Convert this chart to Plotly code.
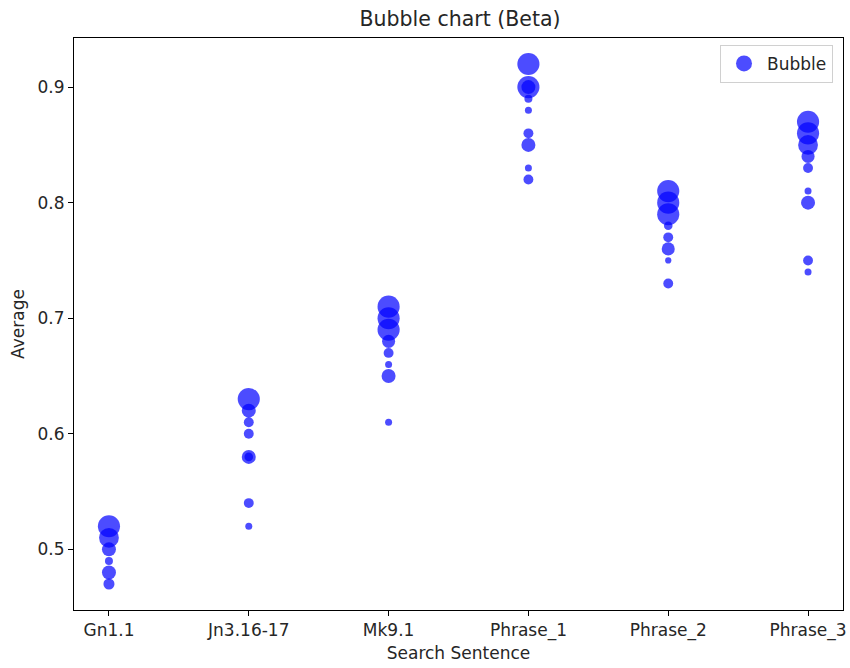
import plotly.graph_objects as go

# Search sentences on the x axis
sentences = ["Gn1.1", "Jn3.16-17", "Mk9.1", "Phrase_1", "Phrase_2", "Phrase_3"]

# One entry per bubble: which sentence, its average score and its weight (bubble area)
point_sentence = (
    ["Gn1.1"] * 6
    + ["Jn3.16-17"] * 8
    + ["Mk9.1"] * 8
    + ["Phrase_1"] * 9
    + ["Phrase_2"] * 8
    + ["Phrase_3"] * 9
)
point_average = [
    0.52, 0.51, 0.50, 0.49, 0.48, 0.47,
    0.63, 0.62, 0.61, 0.60, 0.58, 0.58, 0.54, 0.52,
    0.71, 0.70, 0.69, 0.68, 0.67, 0.66, 0.65, 0.61,
    0.92, 0.90, 0.90, 0.89, 0.88, 0.86, 0.85, 0.83, 0.82,
    0.81, 0.80, 0.79, 0.78, 0.77, 0.76, 0.75, 0.73,
    0.87, 0.86, 0.85, 0.84, 0.83, 0.81, 0.80, 0.75, 0.74,
]
point_weight = [
    10, 8, 4, 1.3, 4, 2.5,
    10, 4, 2, 2, 4, 1.5, 2, 1,
    10, 10, 10, 3.5, 2, 1, 4, 1,
    10, 10, 4, 1.3, 1, 2, 4, 1, 2,
    10, 10, 10, 1.5, 2, 3.5, 0.8, 2,
    10, 10, 8, 3.5, 2, 1, 4, 2, 1,
]

x_index = [sentences.index(s) for s in point_sentence]

font = "DejaVu Sans, Verdana, sans-serif"
text_color = "#262626"

fig = go.Figure()
fig.add_trace(
    go.Scatter(
        x=x_index,
        y=point_average,
        mode="markers",
        showlegend=False,
        marker=dict(
            size=point_weight,
            sizemode="area",
            sizeref=2 / 49,
            color="blue",
            opacity=0.7,
            line=dict(width=0),
        ),
        hovertext=point_sentence,
    )
)
# legend entry
fig.add_trace(
    go.Scatter(
        x=[None],
        y=[None],
        mode="markers",
        name="Bubble",
        marker=dict(size=16, color="blue", opacity=0.7, line=dict(width=0)),
    )
)

axis_common = dict(
    showline=True,
    linecolor="black",
    linewidth=1,
    mirror=True,
    ticks="outside",
    ticklen=5,
    tickcolor="black",
    showgrid=False,
    zeroline=False,
    tickfont=dict(family=font, size=17, color=text_color),
)

fig.update_layout(
    width=850,
    height=668,
    margin=dict(l=74, r=4, t=38, b=58),
    paper_bgcolor="white",
    plot_bgcolor="white",
    font=dict(family=font, color=text_color),
    title=dict(
        text="Bubble chart (Beta)",
        x=(74 + 846) / 2 / 850,
        xanchor="center",
        y=1 - 19 / 668,
        yanchor="middle",
        font=dict(family=font, size=20.5, color=text_color),
    ),
    xaxis=dict(
        axis_common,
        range=[-0.25, 5.25],
        tickmode="array",
        tickvals=list(range(len(sentences))),
        ticktext=sentences,
        title=dict(text="Search Sentence", font=dict(family=font, size=17, color=text_color), standoff=6),
    ),
    yaxis=dict(
        axis_common,
        range=[0.4475, 0.9425],
        tickmode="array",
        tickvals=[0.5, 0.6, 0.7, 0.8, 0.9],
        ticktext=["0.5", "0.6", "0.7", "0.8", "0.9"],
        title=dict(text="Average", font=dict(family=font, size=17, color=text_color), standoff=8),
    ),
    legend=dict(
        x=0.987,
        xanchor="right",
        y=0.988,
        yanchor="top",
        bordercolor="#d0d0d0",
        borderwidth=1,
        bgcolor="rgba(255,255,255,0.8)",
        font=dict(family=font, size=17, color=text_color),
        itemwidth=36,
    ),
)

fig.write_html("out.html")
